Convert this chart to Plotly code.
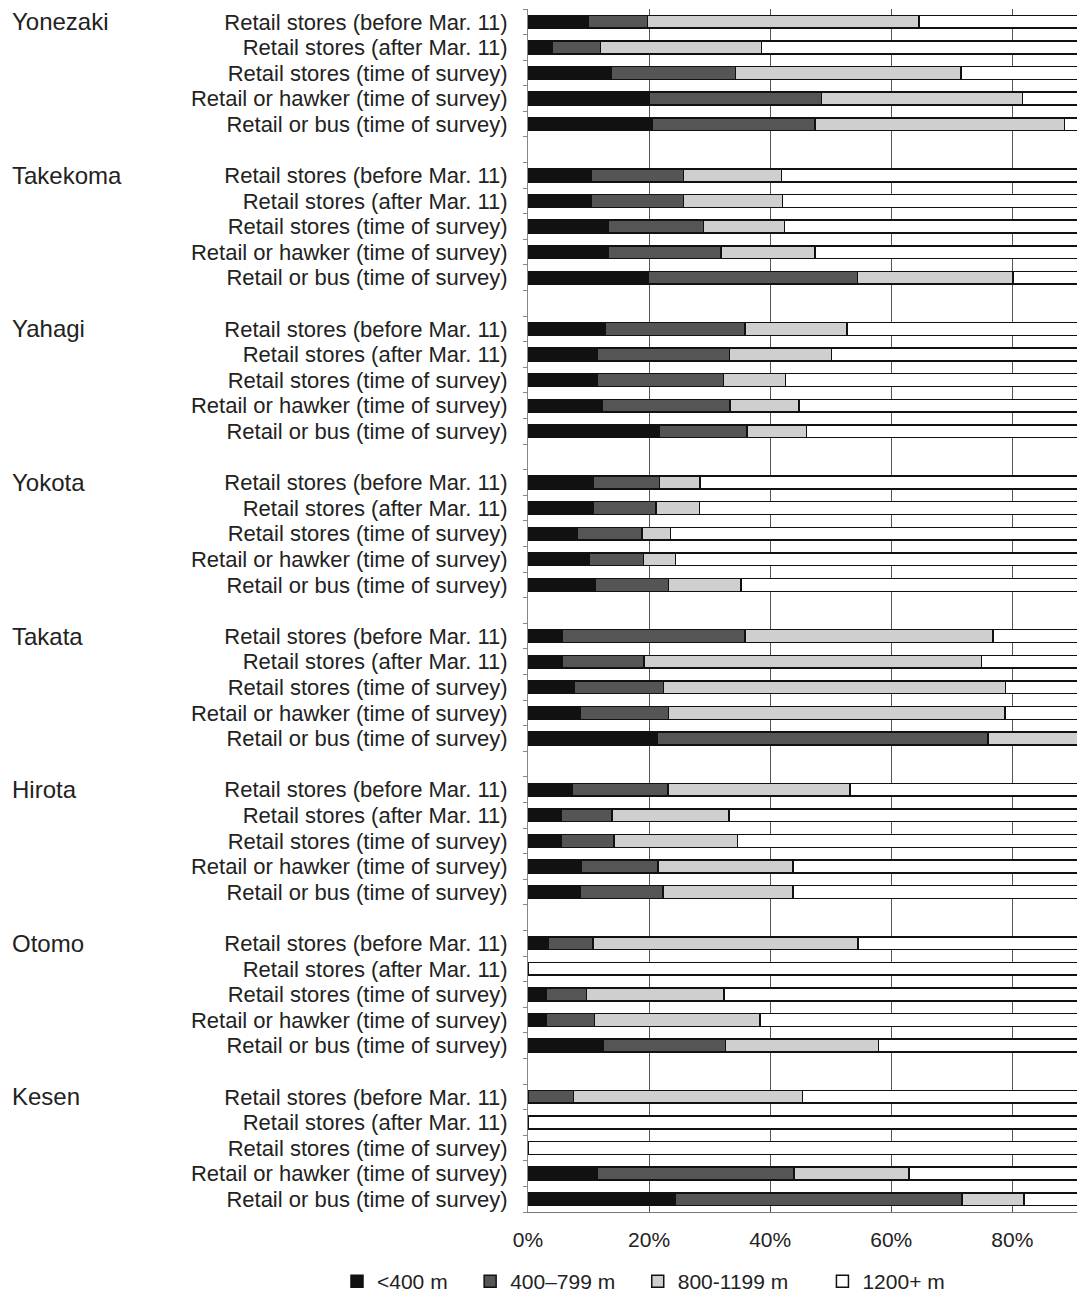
import plotly.graph_objects as go

groups = ["Yonezaki", "Takekoma", "Yahagi", "Yokota", "Takata", "Hirota", "Otomo", "Kesen"]
rows = ["Retail stores (before Mar. 11)", "Retail stores (after Mar. 11)",
        "Retail stores (time of survey)", "Retail or hawker (time of survey)",
        "Retail or bus (time of survey)"]
series_names = ["<400 m", "400\u2013799 m", "800-1199 m", "1200+ m"]
x_ticks = [0, 20, 40, 60, 80]

# percentages per group (5 rows each)
lt400 = [
    [9.9, 4.0, 13.8, 20.1, 20.5],
    [10.5, 10.5, 13.3, 13.3, 19.8],
    [12.7, 11.5, 11.5, 12.3, 21.6],
    [10.8, 10.7, 8.2, 10.1, 11.1],
    [5.7, 5.7, 7.7, 8.6, 21.4],
    [7.3, 5.5, 5.5, 8.8, 8.7],
    [3.3, 0, 3.0, 3.0, 12.4],
    [0, 0, 0, 11.4, 24.3],
]
m400_799 = [
    [9.8, 8.0, 20.5, 28.4, 26.9],
    [15.2, 15.2, 15.7, 18.6, 34.6],
    [23.1, 21.8, 20.8, 21.1, 14.6],
    [10.9, 10.4, 10.6, 9.0, 12.1],
    [30.1, 13.5, 14.7, 14.6, 54.6],
    [15.8, 8.4, 8.7, 12.7, 13.6],
    [7.4, 0, 6.7, 8.0, 20.2],
    [7.5, 0, 0, 32.5, 47.4],
]
m800_1199 = [
    [44.9, 26.6, 37.2, 33.2, 41.2],
    [16.2, 16.3, 13.4, 15.5, 25.7],
    [16.9, 16.8, 10.2, 11.4, 9.8],
    [6.7, 7.2, 4.7, 5.3, 12.0],
    [41.0, 55.7, 56.5, 55.6, 19.0],
    [30.1, 19.3, 20.4, 22.3, 21.5],
    [43.8, 0, 22.7, 27.3, 25.3],
    [37.8, 0, 0, 19.0, 10.2],
]
m1200 = [
    [35.4, 61.4, 28.5, 18.3, 11.4],
    [58.1, 58.0, 57.6, 52.6, 19.9],
    [47.3, 49.9, 57.5, 55.2, 54.0],
    [71.6, 71.7, 76.5, 75.6, 64.8],
    [23.2, 25.1, 21.1, 21.2, 5.0],
    [46.8, 66.8, 65.4, 56.2, 56.2],
    [45.5, 100, 67.6, 61.7, 42.1],
    [54.7, 100, 100, 37.1, 18.1],
]

colors = ["#111111", "#555555", "#cfcfcf", "#ffffff"]
legend_pad = [3, 3, 5, 0]  # trailing non-breaking spaces for legend spacing
FONT = "Liberation Sans, Arial, Helvetica, sans-serif"

ys = [g * 6 + r for g in range(len(groups)) for r in range(len(rows))]
labels = [rows[r] for g in range(len(groups)) for r in range(len(rows))]

fig = go.Figure()
for name, data, col, pad in zip(series_names, [lt400, m400_799, m800_1199, m1200], colors, legend_pad):
    flat = [v for grp in data for v in grp]
    fig.add_trace(go.Bar(
        y=ys, x=flat, orientation="h", name=name + "\u00a0" * pad, width=0.5,
        marker=dict(color=col, line=dict(color="#111111", width=1.5)),
    ))

# page has an 8px body margin: figure is 1077x1295, offset by 8px
ML, PW, PH, MB = 520, 557, 1203, 91
for g, gname in enumerate(groups):
    fig.add_annotation(
        text=gname, xref="paper", yref="y", x=(2 - ML) / PW, y=g * 6,
        xanchor="left", yanchor="middle", showarrow=False,
        font=dict(size=24, color="#222", family=FONT),
    )

n_rows = len(groups) * 6 - 1
fig.update_layout(
    width=1077, height=1295,
    margin=dict(l=ML, r=0, t=1, b=MB),
    barmode="stack",
    plot_bgcolor="white", paper_bgcolor="white",
    font=dict(family=FONT, size=22, color="#222"),
    showlegend=True,
    legend=dict(
        orientation="h", xref="paper", yref="paper",
        x=(329 - ML) / PW, xanchor="left", y=-(MB - 1) / PH, yanchor="bottom",
        traceorder="normal", font=dict(size=21, color="#222"),
    ),
    xaxis=dict(
        range=[0, 92], tickmode="array", tickvals=x_ticks,
        ticktext=[f"{t}%" for t in x_ticks],
        showgrid=True, gridcolor="#555", gridwidth=1,
        showline=True, linecolor="#777", linewidth=1,
        ticks="", zeroline=False, ticklabelstandoff=9,
        tickfont=dict(size=21),
    ),
    yaxis=dict(
        range=[n_rows - 0.5, -0.5], tickmode="array", tickvals=ys, ticktext=labels,
        showgrid=False, zeroline=False, ticks="",
        showline=True, linecolor="#888", linewidth=1,
        ticklabelstandoff=15, tickfont=dict(size=22),
        minor=dict(tickmode="linear", tick0=-0.5, dtick=1, ticks="outside",
                   ticklen=4, tickcolor="#888", showgrid=False),
    ),
)

fig.write_html("out.html")
